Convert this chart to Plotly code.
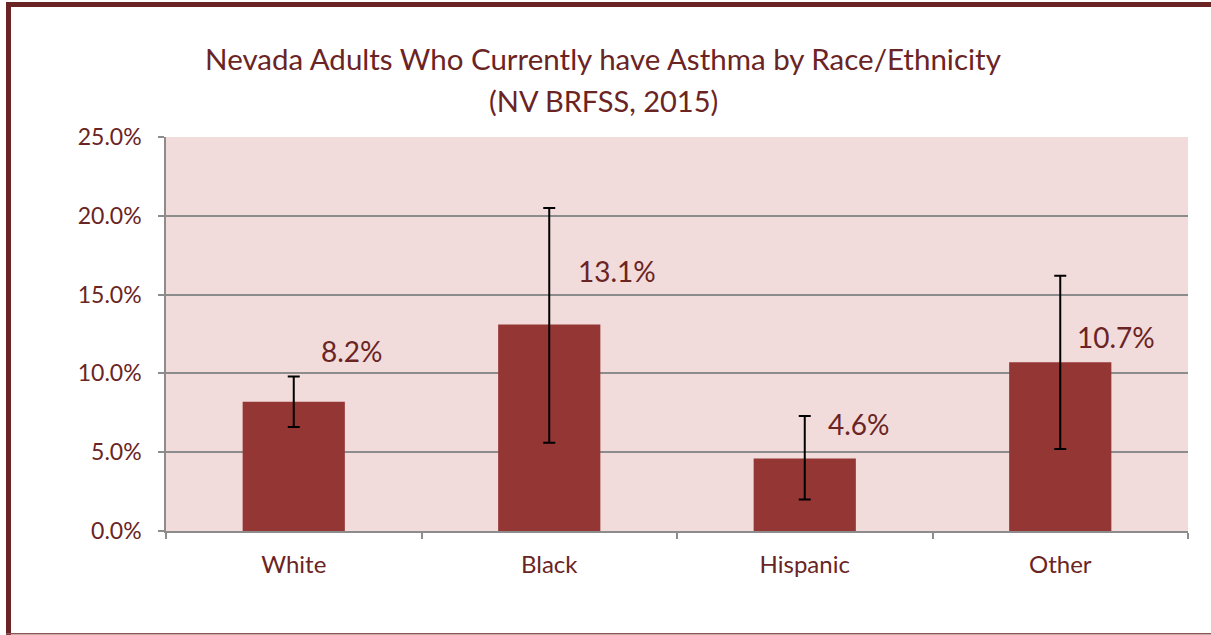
import plotly.graph_objects as go

categories = ["White", "Black", "Hispanic", "Other"]
values = [8.2, 13.1, 4.6, 10.7]
ci_upper = [9.8, 20.5, 7.3, 16.2]
ci_lower = [6.6, 5.6, 2.0, 5.2]
tick_vals = [0, 5, 10, 15, 20, 25]
tick_text = ["0.0%", "5.0%", "10.0%", "15.0%", "20.0%", "25.0%"]
title_line1 = "Nevada Adults Who Currently have Asthma by Race/Ethnicity"
title_line2 = "(NV BRFSS, 2015)"

# label placement (category-index offset, y value) as in the original layout
label_dx = [0.227, 0.266, 0.211, 0.219]
label_y = [11.42, 16.5, 6.79, 12.31]

DARK = "#6b2424"
BAR = "#943634"
BG = "#f2dcdb"
GRID = "#8c8c8c"
FONT = "Lato"

err_plus = [u - v for u, v in zip(ci_upper, values)]
err_minus = [v - l for v, l in zip(values, ci_lower)]

fig = go.Figure()
fig.add_trace(go.Bar(
    x=categories, y=values, width=0.4,
    marker=dict(color=BAR, line=dict(width=0)),
    error_y=dict(type="data", symmetric=False, array=err_plus, arrayminus=err_minus,
                 color="black", thickness=2, width=6),
    hoverinfo="skip",
))

for i, (v, dx, ly) in enumerate(zip(values, label_dx, label_y)):
    fig.add_annotation(x=i + dx, y=ly, xref="x", yref="y", text=f"{v:.1f}%",
                       showarrow=False, font=dict(family=FONT, size=28, color=DARK))

L, R, T, B = 166, 23, 137, 104
W, H = 1211, 635
pw, ph = W - L - R, H - T - B

def px_x(p):
    return (p - L) / pw

def px_y(p):
    return (H - B - p) / ph

# second title line
fig.add_annotation(x=px_x(603), y=px_y(100), xref="paper", yref="paper",
                   text=title_line2, showarrow=False, xanchor="center", yanchor="middle",
                   font=dict(family=FONT, size=29, color=DARK))

shapes = [
    dict(type="line", xref="paper", yref="paper", x0=px_x(8.5), x1=px_x(8.5),
         y0=px_y(2), y1=px_y(636), line=dict(color=DARK, width=5)),
    dict(type="line", xref="paper", yref="paper", x0=px_x(6), x1=px_x(1215),
         y0=px_y(4.5), y1=px_y(4.5), line=dict(color=DARK, width=5)),
    dict(type="line", xref="paper", yref="paper", x0=px_x(6), x1=px_x(1215),
         y0=px_y(633.8), y1=px_y(633.8), line=dict(color="#8f5555", width=1.5)),
]

fig.update_layout(
    width=W, height=H,
    margin=dict(l=L, r=R, t=T, b=B),
    paper_bgcolor="white", plot_bgcolor=BG,
    showlegend=False,
    title=dict(text=title_line1,
               x=603 / W, xanchor="center", y=1 - 60 / H, yanchor="middle",
               font=dict(family=FONT, size=29.5, color=DARK)),
    font=dict(family=FONT, color=DARK),
    shapes=shapes,
    bargap=0.6,
)
fig.update_yaxes(range=[0, 25], tickvals=tick_vals, ticktext=tick_text,
                 showgrid=True, gridcolor=GRID, gridwidth=1.5,
                 showline=True, linecolor=GRID, linewidth=1.5,
                 ticks="outside", ticklen=6, tickcolor=GRID, tickwidth=1.5,
                 ticklabelstandoff=12,
                 tickfont=dict(family=FONT, size=23, color=DARK), zeroline=False)
fig.update_xaxes(showline=True, linecolor=GRID, linewidth=2,
                 ticks="outside", tickson="boundaries", ticklen=6, tickcolor=GRID, tickwidth=1.5,
                 ticklabelstandoff=11,
                 tickfont=dict(family=FONT, size=24, color=DARK), showgrid=False)

fig.write_html("out.html", config={"displayModeBar": False},
               post_script="document.body.style.margin='0';")
